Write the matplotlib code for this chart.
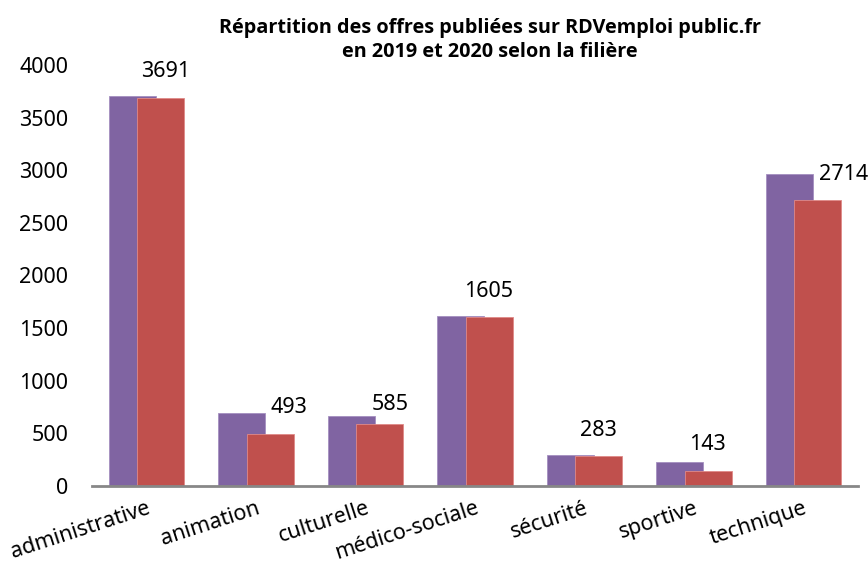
import numpy as np
import matplotlib.pyplot as plt

plt.rcParams['font.family'] = ['Noto Sans', 'DejaVu Sans']

categories = ['administrative', 'animation', 'culturelle', 'médico-sociale',
              'sécurité', 'sportive', 'technique']
offres_2019 = [3707, 689, 660, 1614, 289, 225, 2965]
offres_2020 = [3691, 493, 585, 1605, 283, 143, 2714]

# décalage des étiquettes (pixels) par rapport au haut des barres 2020
label_dx = [5, 19, 10, -1, 0, -1, 26]
label_dy = [26, 26, 20, 25, 25, 26, 26]

violet = '#8064A2'
rouge = '#C0504D'

fig = plt.figure(figsize=(8.68, 5.63), dpi=100)
ax = fig.add_axes([0.106, 0.1373, 0.8825, 0.7469])

x = np.arange(len(categories))
w = 0.43
ax.bar(x - 0.13, offres_2019, width=w, color=violet, edgecolor='#a48fc0',
       linewidth=0.6, zorder=2)
ax.bar(x + 0.13, offres_2020, width=w, color=rouge, edgecolor='#e08a88',
       linewidth=0.6, zorder=3)

for i in range(len(categories)):
    ax.annotate(str(offres_2020[i]), xy=(x[i] + 0.13, offres_2020[i]),
                xytext=(label_dx[i], label_dy[i]), textcoords='offset pixels',
                ha='center', va='center', fontsize=15.5, color='black',
                annotation_clip=False)

ax.set_xlim(-0.5, len(categories) - 0.5)
ax.set_ylim(0, 4000)
ax.set_yticks(np.arange(0, 4001, 500))
ax.set_xticks(x)
ax.set_xticklabels(categories, rotation=18, ha='right', rotation_mode='anchor',
                   fontsize=15.5)
ax.tick_params(axis='y', length=0, labelsize=15.5, pad=17)
ax.tick_params(axis='x', length=0, pad=8.5)

for s in ['top', 'right', 'left']:
    ax.spines[s].set_visible(False)
ax.spines['bottom'].set_color('#878787')
ax.spines['bottom'].set_linewidth(2)
ax.spines['bottom'].set_zorder(4)

fig.text(0.564, 0.968, 'Répartition des offres publiées sur RDVemploi public.fr\n'
         'en 2019 et 2020 selon la filière', ha='center', va='top',
         fontsize=14.3, fontweight='bold', family=['Open Sans', 'DejaVu Sans'],
         linespacing=1.25)

fig.savefig('out.png', dpi=100)
